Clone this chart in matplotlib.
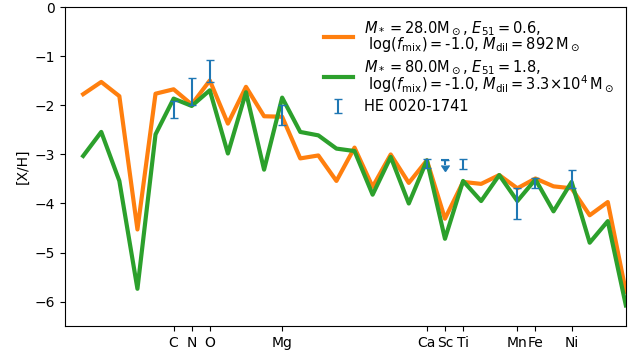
import numpy as np
import matplotlib
matplotlib.use("Agg")
import matplotlib.pyplot as plt

# Atomic numbers of the model yields
z_model = np.arange(1, 32)

# [X/H] for the two models
model_28 = [-1.77, -1.52, -1.81, -4.53, -1.76, -1.67, -1.98, -1.49, -2.37, -1.62,
            -2.22, -2.23, -3.08, -3.02, -3.54, -2.86, -3.66, -3.00, -3.58, -3.12,
            -4.31, -3.56, -3.60, -3.42, -3.69, -3.49, -3.65, -3.69, -4.24, -3.97,
            -5.80]
model_80 = [-3.03, -2.54, -3.54, -5.74, -2.59, -1.86, -2.01, -1.69, -2.98, -1.73,
            -3.31, -1.84, -2.54, -2.61, -2.88, -2.93, -3.82, -3.05, -4.00, -3.12,
            -4.72, -3.54, -3.95, -3.42, -3.95, -3.51, -4.16, -3.56, -4.80, -4.36,
            -6.08]

# Observed abundances of HE 0020-1741
obs_z = [6, 7, 8, 12, 20, 22, 25, 26, 28]
obs_val = [-2.08, -1.72, -1.30, -2.20, -3.19, -3.19, -4.00, -3.59, -3.50]
obs_err = [0.17, 0.28, 0.22, 0.20, 0.09, 0.10, 0.32, 0.10, 0.18]

# Upper limit (Sc)
lim_z = [21]
lim_val = [-3.12]
lim_err = [0.10]

tick_z = [6, 7, 8, 12, 20, 21, 22, 25, 26, 28]
tick_labels = ["C", "N", "O", "Mg", "Ca", "Sc", "Ti", "Mn", "Fe", "Ni"]

label_28 = (r"$M_* = 28.0\mathrm{M}_\odot$, $E_{51} = 0.6$," "\n"
            r" $\log(f_{\rm mix}) = $-1.0, $M_{\rm dil} = 892\,\mathrm{M}_\odot$")
label_80 = (r"$M_* = 80.0\mathrm{M}_\odot$, $E_{51} = 1.8$," "\n"
            r" $\log(f_{\rm mix}) = $-1.0, $M_{\rm dil} = 3.3{\times}10^4\,\mathrm{M}_\odot$")

fig, ax = plt.subplots(figsize=(6.38, 3.54), dpi=100)
fig.subplots_adjust(left=0.102, right=0.981, bottom=0.079, top=0.979)

ax.plot(z_model, model_28, color="C1", lw=3, label=label_28)
ax.plot(z_model, model_80, color="C2", lw=3, label=label_80)

ax.errorbar(obs_z, obs_val, yerr=obs_err, fmt="none", ecolor="C0",
            capsize=3, elinewidth=1.5, label="HE 0020-1741")
ax.errorbar(lim_z, lim_val, yerr=lim_err, fmt="none", ecolor="C0",
            capsize=3, elinewidth=1.5, uplims=True)
ax.plot(lim_z, lim_val, ls="none", marker="_", ms=6, mew=1.5, color="C0")

ax.set_xlim(0, 31)
ax.set_ylim(-6.5, 0)
ax.set_xticks(tick_z)
ax.set_xticklabels(tick_labels)
ax.set_ylabel("[X/H]")
leg = ax.legend(loc="upper right", frameon=False, fontsize=10.5,
                labelspacing=0.3, borderaxespad=0.4)
for t in leg.get_texts():
    t.set_linespacing(0.85)

fig.savefig("out.png", dpi=100)
